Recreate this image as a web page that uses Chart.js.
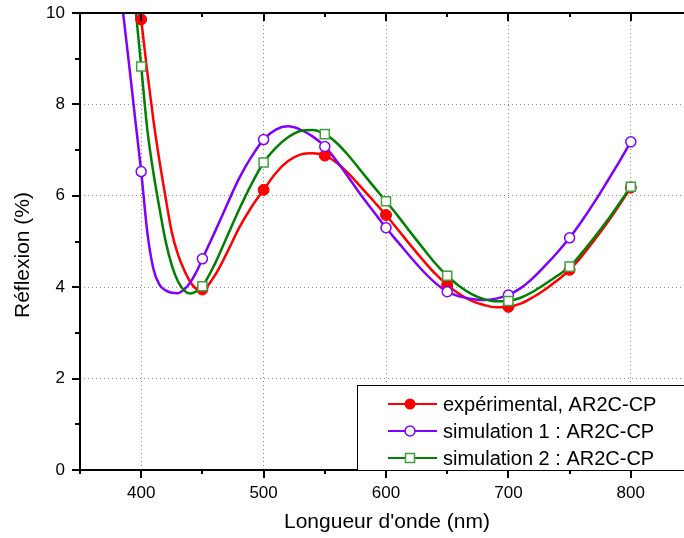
<!DOCTYPE html>
<html>
<head>
<meta charset="utf-8">
<script src="https://cdn.jsdelivr.net/npm/chart.js@4.4.1/dist/chart.umd.min.js"></script>
<style>
  html, body { margin: 0; padding: 0; background: #fff; overflow: hidden; }
  canvas { display: block; }
</style>
</head>
<body>
<canvas id="chart" width="700" height="538"></canvas>
<script>
// points de mesure / simulation (tous les 50 nm)
var markX = [400, 450, 500, 550, 600, 650, 700, 750, 800];
var expMarks  = [9.86, 3.95, 6.13, 6.88, 5.58, 4.05, 3.57, 4.38, 6.18];
var sim1Marks = [6.53, 4.62, 7.23, 7.08, 5.30, 3.90, 3.83, 5.08, 7.18];
var sim2Marks = [8.83, 4.02, 6.73, 7.35, 5.88, 4.25, 3.70, 4.45, 6.20];

// courbes
var curveX = [380, 385, 390, 395, 400, 405, 410, 415, 420, 425, 430, 435, 440, 445, 450,
  460, 470, 480, 490, 500, 510, 520, 530, 540, 550, 560, 570, 580, 590, 600,
  610, 620, 630, 640, 650, 660, 670, 680, 690, 700, 710, 720, 730, 740, 750,
  760, 770, 780, 790, 800];
var expCurve = [null, null, 12.2, 11.0, 9.86, 8.7, 7.65, 6.75, 5.95, 5.2, 4.72, 4.38, 4.12, 3.97, 3.95,
  4.25, 4.75, 5.3, 5.75, 6.13, 6.5, 6.76, 6.9, 6.93, 6.88, 6.72, 6.47, 6.18, 5.88, 5.58,
  5.25, 4.92, 4.6, 4.3, 4.05, 3.85, 3.7, 3.61, 3.56, 3.57, 3.64, 3.78, 3.95, 4.15, 4.38,
  4.68, 5.02, 5.38, 5.77, 6.18];
var sim1Curve = [11.2, 10.05, 8.9, 7.7, 6.53, 5.2, 4.4, 4.05, 3.93, 3.88, 3.87, 3.95, 4.1, 4.33, 4.62,
  5.2, 5.8, 6.38, 6.85, 7.23, 7.45, 7.52, 7.45, 7.3, 7.08, 6.75, 6.38, 6.0, 5.65, 5.3,
  4.98, 4.66, 4.36, 4.1, 3.9, 3.8, 3.74, 3.72, 3.75, 3.83, 3.98, 4.2, 4.47, 4.76, 5.08,
  5.45, 5.85, 6.28, 6.72, 7.18];
var sim2Curve = [null, null, 11.6, 10.2, 8.83, 7.45, 6.5, 5.72, 5.0, 4.48, 4.13, 3.93, 3.86, 3.91, 4.02,
  4.5, 5.1, 5.7, 6.25, 6.73, 7.05, 7.28, 7.42, 7.44, 7.35, 7.15, 6.86, 6.53, 6.2, 5.88,
  5.55, 5.2, 4.86, 4.53, 4.25, 4.02, 3.85, 3.74, 3.69, 3.7, 3.77, 3.9, 4.07, 4.25, 4.45,
  4.75, 5.08, 5.43, 5.81, 6.2];

var labels = ['expérimental, AR2C-CP', 'simulation 1 : AR2C-CP', 'simulation 2 : AR2C-CP'];
var RED = '#ff0000', PURPLE = '#8000ff', GREEN = '#008000', SQ = '#3f9f3f';
var FONT = "'Liberation Sans', Arial, sans-serif";

function pts(xs, ys) {
  return xs.map(function (v, i) { return { x: v, y: ys[i] }; });
}

function curve(data, color, order) {
  return {
    data: pts(curveX, data), showLine: true, borderColor: color, borderWidth: 2.5,
    pointRadius: 0, cubicInterpolationMode: 'monotone', fill: false, order: order
  };
}

function line(ctx, x1, y1, x2, y2) {
  ctx.beginPath(); ctx.moveTo(x1, y1); ctx.lineTo(x2, y2); ctx.stroke();
}

function marker(ctx, kind, x, y) {
  ctx.save();
  if (kind === 0) {
    ctx.fillStyle = RED;
    ctx.beginPath(); ctx.arc(x, y, 5.5, 0, Math.PI * 2); ctx.fill();
  } else if (kind === 1) {
    ctx.fillStyle = '#fff'; ctx.strokeStyle = PURPLE; ctx.lineWidth = 1.5;
    ctx.beginPath(); ctx.arc(x, y, 5, 0, Math.PI * 2); ctx.fill(); ctx.stroke();
  } else {
    ctx.fillStyle = '#fff'; ctx.strokeStyle = SQ; ctx.lineWidth = 1.5;
    ctx.fillRect(x - 4.5, y - 4.5, 9, 9); ctx.strokeRect(x - 4.5, y - 4.5, 9, 9);
  }
  ctx.restore();
}

var framePlugin = {
  id: 'frame',
  afterDraw: function (chart) {
    var ctx = chart.ctx, a = chart.chartArea, xs = chart.scales.x, ys = chart.scales.y;
    ctx.save();
    ctx.strokeStyle = '#000';
    ctx.lineWidth = 2;
    ctx.strokeRect(a.left, a.top, a.right - a.left, a.bottom - a.top);

    // graduations
    xs.ticks.forEach(function (t) {
      var px = Math.round(xs.getPixelForValue(t.value));
      var len = t.value % 100 === 0 ? 8 : 4;
      line(ctx, px, a.bottom, px, a.bottom + len);
      line(ctx, px, a.top, px, a.top + len);
    });
    ys.ticks.forEach(function (t) {
      var py = Math.round(ys.getPixelForValue(t.value));
      var len = t.value % 2 === 0 ? 8 : 5;
      line(ctx, a.left - len, py, a.left, py);
    });

    // légende
    var lx = 357, ly = 385;
    ctx.fillStyle = '#fff';
    ctx.fillRect(lx, ly, a.right - lx, a.bottom - ly);
    ctx.lineWidth = 1;
    ctx.strokeRect(lx + 0.5, ly + 0.5, a.right - lx, a.bottom - ly);
    var colors = [RED, PURPLE, GREEN];
    var rows = [404, 431, 458];
    ctx.font = '20px ' + FONT;
    ctx.textBaseline = 'middle';
    ctx.textAlign = 'left';
    for (var i = 0; i < 3; i++) {
      ctx.strokeStyle = colors[i];
      ctx.lineWidth = 2;
      line(ctx, 388, rows[i], 437, rows[i]);
      marker(ctx, i, 410, rows[i]);
      ctx.fillStyle = '#000';
      ctx.fillText(labels[i], 443, rows[i] + 1);
    }

    // titres des axes
    ctx.font = '21px ' + FONT;
    ctx.textAlign = 'center';
    ctx.fillText("Longueur d'onde (nm)", 387, 522);
    ctx.translate(23, 255);
    ctx.rotate(-Math.PI / 2);
    ctx.fillText('Réflexion (%)', 0, 0);
    ctx.restore();
  }
};

var markerStyle = [
  { pointStyle: 'circle', pointRadius: 5.5, pointBackgroundColor: RED, pointBorderColor: RED, pointBorderWidth: 1 },
  { pointStyle: 'circle', pointRadius: 5, pointBackgroundColor: '#fff', pointBorderColor: PURPLE, pointBorderWidth: 1.5 },
  { pointStyle: 'rect', pointRadius: 6.4, pointBackgroundColor: '#fff', pointBorderColor: SQ, pointBorderWidth: 1.5 }
];

function marks(data, k, order) {
  return Object.assign({ data: pts(markX, data), showLine: false, order: order }, markerStyle[k]);
}

new Chart(document.getElementById('chart'), {
  type: 'scatter',
  data: {
    datasets: [
      marks(sim2Marks, 2, 1),
      marks(sim1Marks, 1, 2),
      marks(expMarks, 0, 3),
      curve(sim2Curve, GREEN, 4),
      curve(sim1Curve, PURPLE, 5),
      curve(expCurve, RED, 6)
    ]
  },
  plugins: [framePlugin],
  options: {
    responsive: false,
    animation: false,
    layout: { padding: { top: 13, right: 8, left: 0, bottom: 0 } },
    plugins: { legend: { display: false }, tooltip: { enabled: false } },
    scales: {
      x: {
        type: 'linear', min: 350, max: 850,
        afterFit: function (s) { s.height = 68; s.paddingLeft = 0; s.paddingRight = 0; },
        ticks: {
          stepSize: 50, autoSkip: false, maxRotation: 0, padding: 13, color: '#000',
          font: { family: FONT, size: 17 },
          callback: function (v) { return v % 100 === 0 ? v : ''; }
        },
        grid: {
          drawTicks: false, lineWidth: 1,
          color: function (c) {
            var v = c.tick && c.tick.value;
            return (v % 100 === 0 && v > 350 && v < 850) ? '#8a8a8a' : 'rgba(0,0,0,0)';
          }
        },
        border: { display: false, dash: [1, 3] }
      },
      y: {
        min: 0, max: 10,
        afterFit: function (s) { s.width = 80; s.paddingTop = 0; s.paddingBottom = 0; },
        ticks: {
          stepSize: 1, autoSkip: false, padding: 15, color: '#000',
          font: { family: FONT, size: 17 },
          callback: function (v) { return v % 2 === 0 ? v : ''; }
        },
        grid: {
          drawTicks: false, lineWidth: 1,
          color: function (c) {
            var v = c.tick && c.tick.value;
            return (v % 2 === 0 && v > 0 && v < 10) ? '#8a8a8a' : 'rgba(0,0,0,0)';
          }
        },
        border: { display: false, dash: [1, 3] }
      }
    }
  }
});
</script>
</body>
</html>
